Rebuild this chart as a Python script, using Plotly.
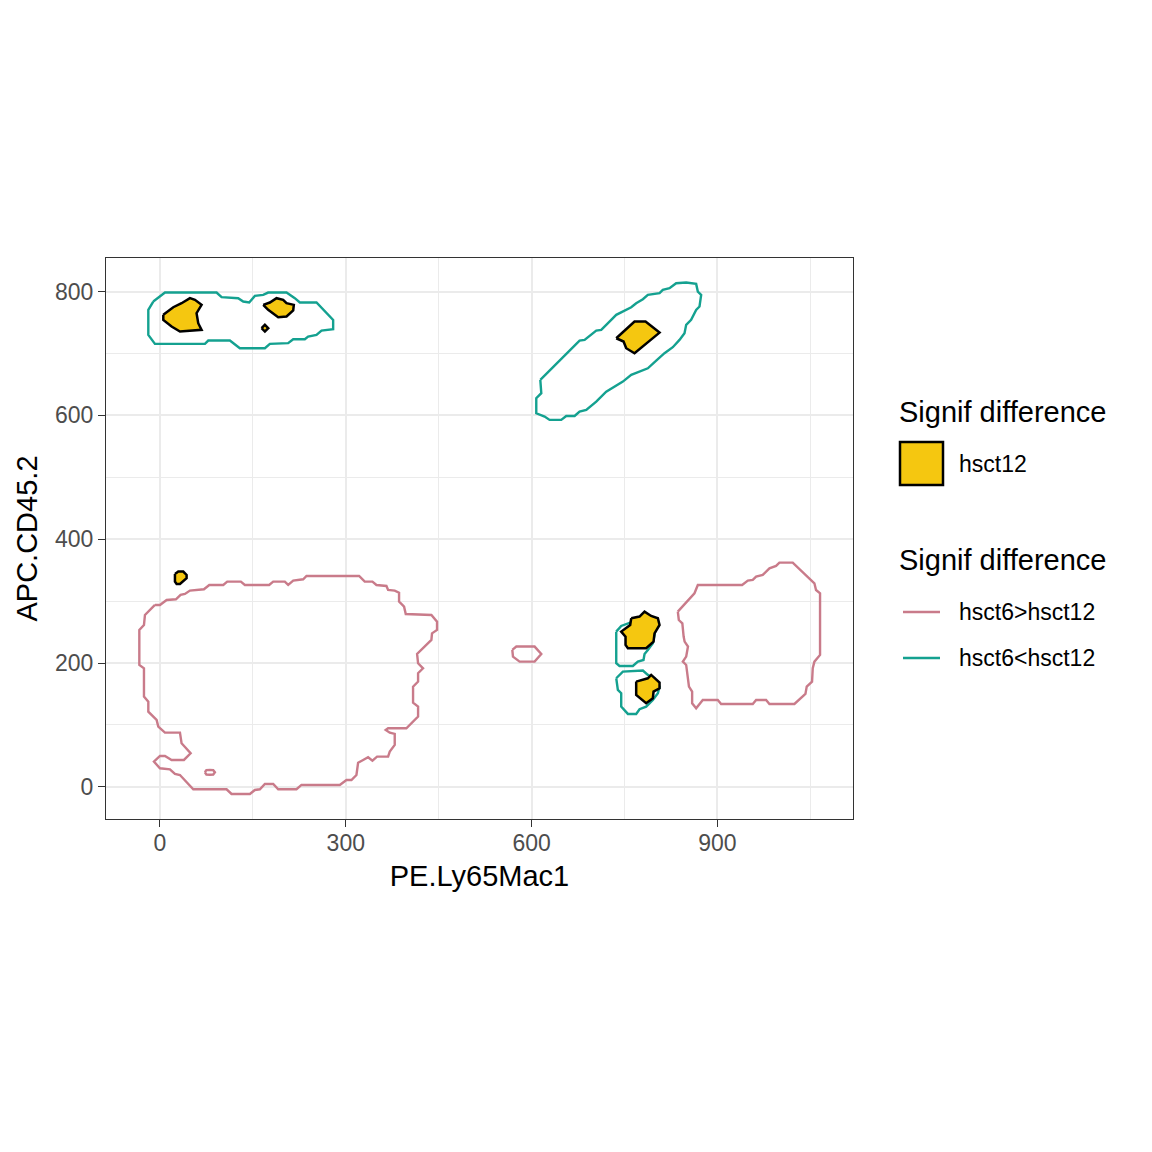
import plotly.graph_objects as go

# ---------------- data (axis units) ----------------
# hsct6>hsct12 contours (pink)
pink_big_x = [-8.1, -24.2, -25.8, -33.3, -33.3, -25.8, -25.8, -18.8, -18.8, -5.4, -2.7, 8.1, 32.3, 34.9, 49.5, 38.7, 18.8, 8.1, 0.0, -9.7, 0.0, 16.1, 24.2, 32.3, 53.8, 107.5, 115.6, 145.2, 153.2, 161.3, 169.4, 182.8, 190.9, 220.4, 228.5, 290.3, 301.1, 309.1, 317.2, 319.9, 328.0, 336.0, 343.0, 350.5, 368.3, 371.0, 379.0, 379.0, 371.0, 364.5, 368.3, 397.8, 416.7, 416.7, 408.6, 408.6, 416.7, 416.7, 424.7, 416.7, 415.1, 438.2, 439.2, 447.3, 447.3, 438.2, 396.8, 394.1, 386.0, 386.0, 379.0, 368.3, 365.6, 349.5, 343.0, 330.6, 321.5, 236.6, 231.2, 215.1, 207.0, 201.6, 182.8, 176.3, 137.1, 130.6, 108.6, 102.2, 79.6, 71.0, 48.4, 40.3, 33.3, 25.8, 10.8, 0.0, -8.1]
pink_big_y = [293.8, 277.6, 261.5, 253.4, 196.9, 191.5, 145.7, 137.6, 121.5, 108.1, 97.3, 87.6, 87.6, 70.4, 54.2, 43.5, 43.5, 49.9, 49.9, 40.8, 30.0, 28.4, 20.8, 19.2, -3.9, -3.9, -11.5, -11.5, -5.0, -3.9, 4.7, 4.7, -3.9, -3.9, 3.1, 3.1, 11.1, 11.1, 19.2, 39.1, 43.5, 47.8, 42.4, 48.8, 48.8, 56.9, 67.7, 85.5, 87.6, 91.9, 94.6, 94.6, 113.5, 129.6, 136.1, 161.9, 170.0, 183.5, 191.5, 199.6, 214.7, 237.3, 248.0, 253.4, 266.9, 277.6, 279.2, 291.1, 299.2, 313.7, 317.0, 318.0, 324.5, 326.1, 331.5, 331.5, 340.7, 340.7, 335.3, 333.1, 326.1, 331.5, 331.5, 326.1, 326.1, 331.5, 331.5, 326.1, 326.1, 319.1, 317.0, 311.6, 310.0, 303.0, 301.9, 293.8, 293.8]

pink_dot_x = [72.5, 75.0, 80.6, 86.0, 88.7, 86.0, 80.6, 75.0, 72.5]
pink_dot_y = [23.5, 27.0, 27.5, 27.0, 23.5, 20.0, 19.5, 20.0, 23.5]

pink_mid_x = [568.8, 575.3, 604.8, 615.6, 604.8, 580.6, 569.9, 568.8]
pink_mid_y = [221.2, 226.6, 226.6, 214.7, 202.3, 202.3, 210.4, 221.2]

pink_right_x = [836.0, 862.9, 868.3, 939.8, 949.0, 957.0, 962.4, 973.1, 983.9, 994.6, 1000.0, 1021.5, 1056.5, 1059.1, 1065.6, 1065.6, 1056.5, 1053.8, 1052.7, 1044.1, 1042.0, 1024.2, 983.9, 978.5, 962.4, 957.0, 905.9, 900.5, 876.3, 865.6, 859.1, 859.1, 854.0, 852.4, 849.5, 844.1, 849.5, 852.4, 847.0, 845.4, 843.3, 837.6, 836.0]
pink_right_y = [283.0, 312.7, 326.1, 326.1, 333.1, 334.2, 339.6, 342.3, 353.0, 356.8, 362.2, 362.2, 328.8, 318.0, 312.7, 213.1, 202.3, 191.5, 170.0, 161.9, 150.0, 133.9, 133.9, 140.4, 140.4, 133.9, 133.9, 140.4, 140.4, 126.9, 135.0, 153.8, 161.9, 175.3, 196.9, 202.3, 210.4, 226.6, 234.6, 242.7, 264.2, 269.5, 283.0]

# hsct6<hsct12 contours (teal)
teal_top_x = [-10.8, -18.8, -18.8, -8.1, 72.6, 78.0, 112.9, 129.0, 169.4, 177.4, 207.0, 215.1, 233.9, 239.2, 252.7, 260.8, 279.6, 279.6, 252.7, 225.8, 217.7, 204.3, 174.7, 166.7, 153.2, 144.1, 134.4, 126.3, 99.5, 91.4, 8.1, -10.8]
teal_top_y = [783.9, 770.4, 730.0, 715.5, 715.5, 720.9, 720.9, 708.5, 708.5, 715.5, 716.6, 723.0, 723.0, 727.3, 730.0, 737.0, 739.2, 754.2, 782.3, 782.3, 789.3, 798.4, 798.4, 794.6, 793.0, 782.3, 783.9, 789.3, 790.9, 798.4, 798.4, 783.9]

teal_diag_x = [614.0, 615.6, 607.5, 607.5, 621.0, 629.0, 647.8, 655.9, 669.4, 677.4, 688.2, 704.3, 720.4, 733.9, 747.3, 760.8, 774.2, 787.6, 801.1, 814.5, 827.9, 838.7, 846.8, 849.5, 857.5, 865.6, 871.0, 873.7, 868.3, 865.6, 849.5, 833.3, 822.6, 811.8, 806.5, 787.6, 779.6, 768.8, 760.8, 752.7, 741.9, 736.6, 728.5, 712.4, 704.3, 696.2, 685.5, 677.4, 614.0]
teal_diag_y = [657.3, 635.8, 627.7, 603.4, 598.1, 592.7, 592.7, 599.1, 599.1, 606.1, 608.8, 622.3, 638.4, 646.5, 654.6, 665.4, 670.8, 676.1, 688.5, 700.4, 710.1, 721.9, 732.7, 746.2, 754.2, 770.4, 775.8, 794.6, 800.0, 812.4, 814.6, 813.5, 805.4, 802.7, 797.4, 794.6, 787.6, 781.2, 774.7, 770.4, 765.1, 762.4, 754.2, 738.2, 737.0, 730.0, 722.0, 720.9, 657.3]

teal_up_x = [736.6, 744.6, 759.1, 784.9, 801.1, 795.7, 787.6, 782.3, 780.6, 771.5, 763.4, 741.9, 736.6, 736.6]
teal_up_y = [250.7, 259.9, 265.3, 269.5, 258.8, 231.9, 221.2, 214.7, 205.0, 202.3, 195.3, 195.3, 199.6, 250.7]

teal_low_x = [736.6, 747.3, 779.6, 787.6, 798.4, 806.5, 803.8, 795.7, 784.9, 774.2, 768.8, 755.4, 744.6, 744.6, 739.2, 736.6]
teal_low_y = [175.4, 186.1, 187.8, 180.8, 175.4, 161.9, 151.2, 140.4, 129.6, 125.4, 117.8, 117.8, 129.6, 151.2, 156.5, 175.4]

# hsct12 significant regions (filled)
yel_a_x = [5.4, 21.5, 34.9, 48.4, 56.5, 67.2, 59.1, 61.8, 67.2, 32.3, 18.8, 5.4, 5.4]
yel_a_y = [762.4, 774.7, 781.2, 789.3, 786.6, 778.5, 765.1, 748.9, 738.2, 735.5, 743.5, 754.3, 762.4]

yel_b_x = [166.7, 177.4, 188.2, 198.9, 204.3, 216.1, 215.1, 204.3, 190.9, 182.8, 174.7, 166.7]
yel_b_y = [778.5, 782.3, 789.3, 786.6, 781.2, 778.5, 769.4, 759.7, 758.6, 765.1, 770.4, 778.5]

yel_c_x = [164.0, 169.4, 174.8, 169.4, 164.0]
yel_c_y = [740.8, 746.2, 740.8, 735.4, 740.8]

yel_d_x = [24.2, 29.6, 37.6, 43.0, 43.0, 32.3, 26.9, 24.2, 24.2]
yel_d_y = [343.9, 347.7, 347.7, 342.3, 337.0, 327.8, 327.8, 331.6, 343.9]

yel_e_x = [736.6, 766.1, 783.9, 806.5, 766.1, 752.7, 748.4, 736.6]
yel_e_y = [724.6, 751.5, 751.5, 733.7, 700.4, 708.5, 719.3, 724.6]

yel_f_x = [760.8, 774.2, 782.3, 793.0, 803.8, 806.5, 798.4, 796.8, 784.9, 755.4, 751.6, 751.6, 744.6, 759.1, 760.8]
yel_f_y = [272.3, 275.0, 283.1, 276.0, 272.3, 261.5, 248.0, 234.6, 223.9, 223.9, 229.2, 242.7, 250.8, 261.5, 272.3]

yel_g_x = [768.8, 787.6, 793.0, 806.5, 806.5, 796.8, 795.7, 784.9, 768.8, 768.8]
yel_g_y = [170.0, 175.4, 180.8, 168.4, 159.2, 153.8, 143.0, 135.0, 148.5, 170.0]

x_ticks = [0, 300, 600, 900]
y_ticks = [0, 200, 400, 600, 800]
x_label = "PE.Ly65Mac1"
y_label = "APC.CD45.2"
legend_title = "Signif difference"
fill_label = "hsct12"
line_labels = ["hsct6>hsct12", "hsct6<hsct12"]

PINK = "#C97B8A"
TEAL = "#14A190"
YEL = "#F5C710"
FONT = "Liberation Sans, Arial, sans-serif"

TITLE_SIZE = 29
TEXT_SIZE = 23


def join(*polys):
    xs, ys = [], []
    for px, py in polys:
        if xs:
            xs.append(None)
            ys.append(None)
        xs.extend(px)
        ys.extend(py)
    return xs, ys


fig = go.Figure()

px_, py_ = join((pink_big_x, pink_big_y), (pink_dot_x, pink_dot_y),
                (pink_mid_x, pink_mid_y), (pink_right_x, pink_right_y))
fig.add_trace(go.Scatter(x=px_, y=py_, mode="lines", name=line_labels[0],
                         line=dict(color=PINK, width=2.4), showlegend=False,
                         hoverinfo="skip"))

tx_, ty_ = join((teal_top_x, teal_top_y), (teal_diag_x, teal_diag_y),
                (teal_up_x, teal_up_y), (teal_low_x, teal_low_y))
fig.add_trace(go.Scatter(x=tx_, y=ty_, mode="lines", name=line_labels[1],
                         line=dict(color=TEAL, width=2.4), showlegend=False,
                         hoverinfo="skip"))

for xs, ys in [(yel_a_x, yel_a_y), (yel_b_x, yel_b_y), (yel_c_x, yel_c_y),
               (yel_d_x, yel_d_y), (yel_e_x, yel_e_y), (yel_f_x, yel_f_y),
               (yel_g_x, yel_g_y)]:
    fig.add_trace(go.Scatter(x=xs, y=ys, mode="lines", fill="toself",
                             fillcolor=YEL, name=fill_label,
                             line=dict(color="black", width=2.5),
                             showlegend=False, hoverinfo="skip"))

# ----- manual legend (paper coords; plot area spans 106..853 x 258..819 on screen) -----
def pxx(p):
    return (p - 106) / 747.0


def pxy(p):
    return (819 - p) / 561.0


shapes = [
    dict(type="rect", xref="paper", yref="paper", x0=pxx(900), x1=pxx(943),
         y0=pxy(485), y1=pxy(442), fillcolor=YEL,
         line=dict(color="black", width=2.5)),
    dict(type="line", xref="paper", yref="paper", x0=pxx(903), x1=pxx(940),
         y0=pxy(612), y1=pxy(612), line=dict(color=PINK, width=2.4)),
    dict(type="line", xref="paper", yref="paper", x0=pxx(903), x1=pxx(940),
         y0=pxy(658), y1=pxy(658), line=dict(color=TEAL, width=2.4)),
]
annotations = [
    dict(text=legend_title, x=pxx(897), y=pxy(412), xanchor="left",
         yanchor="middle", font=dict(size=TITLE_SIZE, color="black", family=FONT)),
    dict(text=fill_label, x=pxx(957), y=pxy(464), xanchor="left",
         yanchor="middle", font=dict(size=TEXT_SIZE, color="black", family=FONT)),
    dict(text=legend_title, x=pxx(897), y=pxy(560), xanchor="left",
         yanchor="middle", font=dict(size=TITLE_SIZE, color="black", family=FONT)),
    dict(text=line_labels[0], x=pxx(957), y=pxy(612), xanchor="left",
         yanchor="middle", font=dict(size=TEXT_SIZE, color="black", family=FONT)),
    dict(text=line_labels[1], x=pxx(957), y=pxy(658), xanchor="left",
         yanchor="middle", font=dict(size=TEXT_SIZE, color="black", family=FONT)),
]
for a in annotations:
    a.update(xref="paper", yref="paper", showarrow=False)

axis_common = dict(
    showgrid=True, gridcolor="#EBEBEB", gridwidth=2,
    zeroline=False, showline=True, mirror=True, linecolor="#333333",
    linewidth=1.3, ticks="outside", ticklen=7, tickwidth=1.3,
    tickcolor="#333333", tickfont=dict(size=TEXT_SIZE, color="#4D4D4D", family=FONT),
    automargin=False,
)

# page body has an 8px offset; margins compensate so the panel lands at 106..853 / 258..819
fig.update_layout(
    width=1152, height=1152,
    margin=dict(l=98, r=307, t=250, b=341, autoexpand=False),
    paper_bgcolor="white", plot_bgcolor="white",
    font=dict(family=FONT, color="black"),
    xaxis=dict(range=[-87.1, 1118.8], tickvals=x_ticks, ticklabelstandoff=-4,
               minor=dict(dtick=150, tick0=0, showgrid=True, gridcolor="#EBEBEB",
                          gridwidth=1, ticks=""),
               title=dict(text=x_label, font=dict(size=TITLE_SIZE, color="black", family=FONT),
                          standoff=10),
               **axis_common),
    yaxis=dict(range=[-51.9, 854.2], tickvals=y_ticks,
               minor=dict(dtick=100, tick0=0, showgrid=True, gridcolor="#EBEBEB",
                          gridwidth=1, ticks=""),
               title=dict(text=y_label, font=dict(size=TITLE_SIZE, color="black", family=FONT),
                          standoff=8),
               **axis_common),
    shapes=shapes,
    annotations=annotations,
    showlegend=False,
)

fig.write_html("out.html")
